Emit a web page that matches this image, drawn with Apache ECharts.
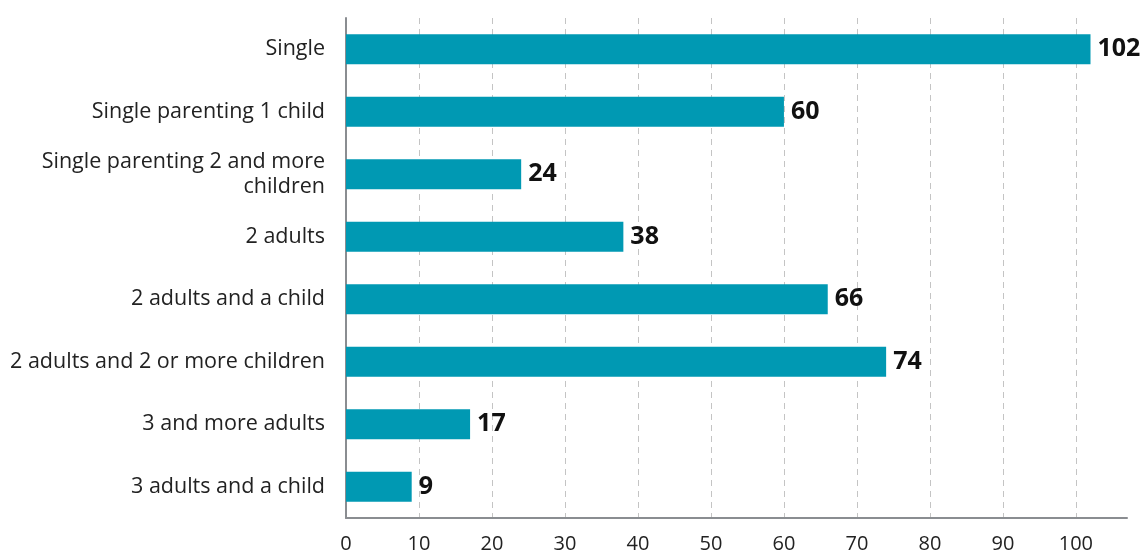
<!DOCTYPE html>
<html>
<head>
<meta charset="utf-8">
<script src="https://cdn.jsdelivr.net/npm/echarts@6/dist/echarts.min.js"></script>
<style>
html, body { margin: 0; padding: 0; background: #fff; }
#chart { width: 1141px; height: 554px; }
</style>
</head>
<body>
<div id="chart"></div>
<script>
const categories = ['Single', 'Single parenting 1 child', 'Single parenting 2 and more\nchildren', '2 adults', '2 adults and a child', '2 adults and 2 or more children', '3 and more adults', '3 adults and a child']
const values = [102, 60, 24, 38, 66, 74, 17, 9]

const chart = echarts.init(document.getElementById('chart'))
chart.setOption({
  animation: false,
  textStyle: { fontFamily: 'Open Sans' },
  grid: { left: 346, right: 14, top: 18, bottom: 36, containLabel: false },
  xAxis: {
    type: 'value',
    min: 0,
    max: 107,
    interval: 10,
    axisLine: { show: true, lineStyle: { color: '#8a8d91', width: 2 } },
    axisTick: { show: false },
    axisLabel: { fontSize: 20, color: '#222', margin: 16, showMaxLabel: false },
    splitLine: { show: true, showMinLine: false, showMaxLine: false, lineStyle: { color: '#c4c4c4', type: [6, 5], width: 1 } }
  },
  yAxis: {
    type: 'category',
    inverse: true,
    data: categories,
    axisLine: { show: true, lineStyle: { color: '#8a8d91', width: 2 } },
    axisTick: { show: false },
    axisLabel: { fontSize: 21.5, color: '#222', margin: 21, lineHeight: 25, align: 'right' }
  },
  series: [{
    type: 'bar',
    data: values,
    barWidth: 30,
    itemStyle: { color: '#0099b3' },
    label: { show: true, position: 'right', distance: 7, fontSize: 25, fontWeight: 'bold', color: '#111' }
  }]
})
</script>
</body>
</html>
